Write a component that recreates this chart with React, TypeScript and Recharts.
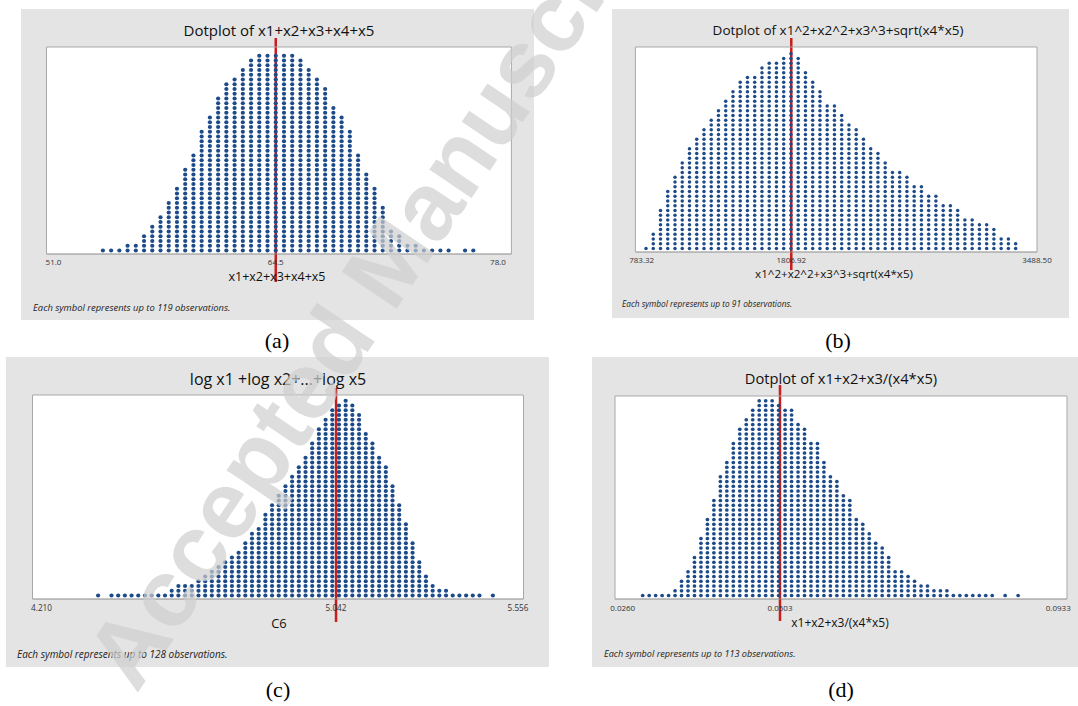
import React from 'react';
import { ScatterChart, Scatter, XAxis, YAxis, ReferenceLine, CartesianGrid } from 'recharts';

// ---------------- data ----------------
// (a) Dotplot of x1+x2+x3+x4+x5
const aBinStart = 54.0;
const aBinWidth = 0.5;
const aCounts = [1, 1, 1, 2, 2, 4, 6, 8, 11, 14, 18, 21, 26, 29, 33, 36, 37, 39, 41, 42, 42, 42, 42, 42, 41, 39, 37, 35, 31, 29, 26, 21, 17, 14, 10, 5, 4, 2, 2, 1, 1, 1, 1, 0, 1, 1];
const aTicks = [51.0, 64.5, 78.0];
const aTickLabels = ['51.0', '64.5', '78.0'];
const aMarker = 64.5;

// (b) Dotplot of x1^2+x2^2+x3^3+sqrt(x4*x5)
const bBinStart = 812.7;
const bBinWidth = 49.6;
const bCounts = [1, 4, 9, 13, 16, 19, 22, 24, 26, 28, 30, 32, 34, 36, 37, 37, 39, 40, 40, 41, 42, 41, 38, 36, 34, 31, 31, 29, 27, 26, 24, 22, 21, 19, 17, 17, 16, 14, 14, 12, 12, 10, 10, 9, 7, 7, 6, 6, 5, 3, 3, 2];
const bTicks = [783.32, 1806.92, 3488.5];
const bTickLabels = ['783.32', '1806.92', '3488.50'];
const bMarker = 1806.92;

// (c) log x1 + log x2 + ... + log x5
const cBinStart = 4.3699;
const cBinWidth = 0.0189;
const cCounts = [1, 0, 1, 1, 1, 1, 1, 1, 1, 1, 1, 2, 3, 3, 3, 4, 5, 6, 7, 8, 9, 10, 12, 14, 15, 18, 20, 22, 24, 26, 28, 30, 33, 36, 38, 40, 41, 42, 41, 39, 35, 33, 30, 28, 24, 20, 16, 12, 8, 5, 3, 2, 2, 1, 1, 1, 1, 1, 0, 1];
const cTicks = [4.21, 5.042, 5.556];
const cTickLabels = ['4.210', '5.042', '5.556'];
const cMarker = 5.042;

// (d) Dotplot of x1+x2+x3/(x4*x5)
const dBinStart = 0.02909;
const dBinWidth = 0.001;
const dCounts = [1, 1, 1, 1, 1, 2, 4, 6, 9, 13, 17, 21, 26, 29, 33, 36, 38, 40, 42, 42, 42, 41, 40, 40, 37, 36, 33, 33, 29, 26, 25, 22, 21, 17, 16, 14, 12, 11, 9, 6, 6, 5, 4, 3, 3, 2, 2, 2, 1, 1, 1, 1, 1, 1, 1, 0, 1, 0, 1];
const dTicks = [0.026, 0.0503, 0.0933];
const dTickLabels = ['0.0260', '0.0503', '0.0933'];
const dMarker = 0.0503;

// ---------------- layout ----------------
type Layout = {
  bg: number[]; // x0,y0,x1,y1 page coords
  box: number[]; // l,t,r,b page coords
  padL: number;
  padR: number;
  lineTop: number;
  lineBottom: number;
  titleX: number;
  titleY: number;
  titleSize: number;
  tickFont: number;
  tickGap: number;
  axisLabelX: number;
  axisLabelY: number;
  axisLabelSize: number;
  noteX: number;
  noteY: number;
  noteSize: number;
  letterX: number;
  letterY: number;
  dotR: number;
  rowStep: number;
};

const FONT = '"Open Sans", "Noto Sans", sans-serif';
const DOT = '#1d4b8a';
const RED = '#c81e1e';
const BORDER = '#a8a8a8';

type PanelProps = {
  counts: number[];
  binStart: number;
  binWidth: number;
  ticks: number[];
  tickLabels: string[];
  marker: number;
  title: string;
  axisLabel: string;
  note: string;
  letter: string;
  L: Layout;
};

function Panel({ counts, binStart, binWidth, ticks, tickLabels, marker, title, axisLabel, note, letter, L }: PanelProps) {
  const [bx0, by0, bx1, by1] = L.bg;
  const [l, t, r, b] = L.box;
  const w = bx1 - bx0;
  const h = by1 - by0;
  // axes take 1px each (so that they are drawn), the rest is margin
  const margin = { top: t - by0 - 1, left: l - bx0 - 1, right: bx1 - r - 1, bottom: by1 - b - 1 };
  const boxH = b - t;
  const base = 3.5;
  const yLo = 1 - base / L.rowStep;
  const yHi = yLo + boxH / L.rowStep;
  const yAt = (py: number) => yLo + (b - py) / L.rowStep;
  const points: { x: number; y: number }[] = [];
  counts.forEach((c, i) => {
    for (let k = 0; k < c; k++) points.push({ x: binStart + i * binWidth, y: k + 1 });
  });
  const xDomain: [number, number] = [ticks[0], ticks[ticks.length - 1]];
  const dotR = L.dotR;
  const shape = (p: any) => <circle cx={p.cx} cy={p.cy} r={dotR} fill={DOT} />;
  return (
    <>
      <div style={{ position: 'absolute', left: bx0, top: by0, width: w, height: h, background: '#e4e4e4' }}>
        <ScatterChart width={w} height={h} margin={margin}>
          <CartesianGrid xAxisId="b" yAxisId="l" horizontal={false} vertical={false} fill="#ffffff" stroke="none" />
          <XAxis
            xAxisId="b"
            type="number"
            dataKey="x"
            domain={xDomain}
            ticks={ticks}
            interval={0}
            allowDataOverflow
            padding={{ left: L.padL, right: L.padR }}
            height={1}
            tickLine={false}
            tickSize={0}
            tickMargin={L.tickGap}
            axisLine={{ stroke: '#8a8a8a' }}
            tick={{ fontSize: L.tickFont, fill: '#333', fontFamily: FONT }}
            tickFormatter={(v: number) => tickLabels[ticks.indexOf(v)] ?? String(v)}
          />
          <XAxis
            xAxisId="t"
            orientation="top"
            type="number"
            domain={xDomain}
            ticks={ticks}
            allowDataOverflow
            padding={{ left: L.padL, right: L.padR }}
            height={1}
            tick={false}
            tickLine={false}
            axisLine={{ stroke: BORDER }}
          />
          <YAxis yAxisId="l" type="number" dataKey="y" domain={[yLo, yHi]} allowDataOverflow width={1} tick={false} tickLine={false} axisLine={{ stroke: BORDER }} />
          <YAxis yAxisId="r" orientation="right" type="number" domain={[yLo, yHi]} allowDataOverflow width={1} tick={false} tickLine={false} axisLine={{ stroke: BORDER }} />
          <Scatter xAxisId="b" yAxisId="l" data={points} isAnimationActive={false} shape={shape} />
          <ReferenceLine
            xAxisId="b"
            yAxisId="l"
            segment={[{ x: marker, y: yAt(L.lineBottom) }, { x: marker, y: yAt(L.lineTop) }]}
            stroke={RED}
            strokeWidth={2.5}
            ifOverflow="visible"
          />
        </ScatterChart>
      </div>
      <div style={{ position: 'absolute', left: L.titleX, top: L.titleY, transform: 'translate(-50%, -50%)', fontFamily: FONT, fontSize: L.titleSize, color: '#111', whiteSpace: 'nowrap', lineHeight: 1 }}>{title}</div>
      <div style={{ position: 'absolute', left: L.axisLabelX, top: L.axisLabelY, transform: 'translate(-50%, -50%)', fontFamily: FONT, fontSize: L.axisLabelSize, color: '#111', whiteSpace: 'nowrap', lineHeight: 1 }}>{axisLabel}</div>
      <div style={{ position: 'absolute', left: L.noteX, top: L.noteY, transform: 'translate(0, -50%)', fontFamily: FONT, fontStyle: 'italic', fontSize: L.noteSize, color: '#222', whiteSpace: 'nowrap', lineHeight: 1 }}>{note}</div>
      <div style={{ position: 'absolute', left: L.letterX, top: L.letterY, transform: 'translate(-50%, -50%)', fontFamily: '"Liberation Serif", "DejaVu Serif", serif', fontSize: 22, color: '#000', whiteSpace: 'nowrap', lineHeight: 1 }}>{letter}</div>
    </>
  );
}

const layoutA: Layout = {
  bg: [21, 9, 534, 320], box: [46.5, 47, 511.4, 254], padL: 7, padR: 13.4,
  lineTop: 38, lineBottom: 282, titleX: 279, titleY: 30, titleSize: 15,
  tickFont: 8, tickGap: 5, axisLabelX: 277, axisLabelY: 277, axisLabelSize: 12.5,
  noteX: 33, noteY: 308, noteSize: 9.4, letterX: 277, letterY: 341, dotR: 2.1, rowStep: 4.75,
};
const layoutB: Layout = {
  bg: [612, 9, 1069, 318], box: [635.4, 47, 1037, 252], padL: 6.3, padR: 0,
  lineTop: 38, lineBottom: 270, titleX: 838, titleY: 31, titleSize: 13.5,
  tickFont: 8, tickGap: 5, axisLabelX: 834, axisLabelY: 274, axisLabelSize: 11.6,
  noteX: 622, noteY: 304, noteSize: 8.3, letterX: 838, letterY: 341, dotR: 1.75, rowStep: 4.75,
};
const layoutC: Layout = {
  bg: [6, 357, 549, 667], box: [32.5, 395, 523.5, 599], padL: 9, padR: 5.5,
  lineTop: 388, lineBottom: 622, titleX: 278, titleY: 379, titleSize: 16,
  tickFont: 8.2, tickGap: 6, axisLabelX: 279, axisLabelY: 623, axisLabelSize: 12.9,
  noteX: 17, noteY: 654, noteSize: 10, letterX: 278, letterY: 690, dotR: 2.1, rowStep: 4.75,
};
const layoutD: Layout = {
  bg: [592, 357, 1078, 667], box: [615, 396, 1067, 599], padL: 7.7, padR: 8.7,
  lineTop: 385, lineBottom: 621, titleX: 841, titleY: 378, titleSize: 14.7,
  tickFont: 8, tickGap: 6, axisLabelX: 840, axisLabelY: 623, axisLabelSize: 12,
  noteX: 604, noteY: 654, noteSize: 9.1, letterX: 841, letterY: 690, dotR: 1.85, rowStep: 4.75,
};

export default function App() {
  return (
    <div style={{ position: 'absolute', left: 0, top: 0, width: 1078, height: 706, background: '#ffffff', overflow: 'hidden' }}>
      <Panel counts={aCounts} binStart={aBinStart} binWidth={aBinWidth} ticks={aTicks} tickLabels={aTickLabels} marker={aMarker}
        title="Dotplot of x1+x2+x3+x4+x5" axisLabel="x1+x2+x3+x4+x5" note="Each symbol represents up to 119 observations." letter="(a)" L={layoutA} />
      <Panel counts={bCounts} binStart={bBinStart} binWidth={bBinWidth} ticks={bTicks} tickLabels={bTickLabels} marker={bMarker}
        title="Dotplot of x1^2+x2^2+x3^3+sqrt(x4*x5)" axisLabel="x1^2+x2^2+x3^3+sqrt(x4*x5)" note="Each symbol represents up to 91 observations." letter="(b)" L={layoutB} />
      <Panel counts={cCounts} binStart={cBinStart} binWidth={cBinWidth} ticks={cTicks} tickLabels={cTickLabels} marker={cMarker}
        title="log x1 +log x2+...+log x5" axisLabel="C6" note="Each symbol represents up to 128 observations." letter="(c)" L={layoutC} />
      <Panel counts={dCounts} binStart={dBinStart} binWidth={dBinWidth} ticks={dTicks} tickLabels={dTickLabels} marker={dMarker}
        title="Dotplot of x1+x2+x3/(x4*x5)" axisLabel="x1+x2+x3/(x4*x5)" note="Each symbol represents up to 113 observations." letter="(d)" L={layoutD} />
      <svg width={1078} height={706} style={{ position: 'absolute', left: 0, top: 0, pointerEvents: 'none' }}>
        <text x={408} y={292} transform="rotate(-56 408 292)" textAnchor="middle" fontFamily='"Liberation Sans", Arial, sans-serif' fontWeight="bold" fontSize={96} fill="#cfcfcf" fillOpacity={0.7}>
          Accepted Manuscript
        </text>
      </svg>
    </div>
  );
}
